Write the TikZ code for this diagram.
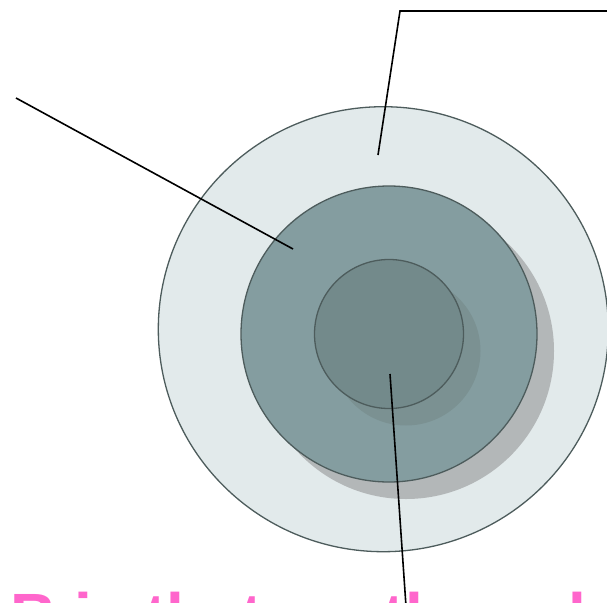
\documentclass[tikz,border=0pt]{standalone}
\usepackage{fontspec}
\usetikzlibrary{shapes.geometric}
\newfontfamily\ttl{Liberation Sans}
\definecolor{outerfill}{HTML}{E2EAEB}
\definecolor{midfill}{HTML}{849DA0}
\definecolor{innerfill}{HTML}{738A8B}
\definecolor{ringline}{HTML}{4D5C5C}
\definecolor{shadowA}{HTML}{B3B7B8}
\definecolor{shadowB}{HTML}{7B9192}
\definecolor{titlepink}{HTML}{FF66CC}
\tikzset{
  ring/.style={ellipse, draw=ringline, line width=1.3pt, inner sep=0pt},
  ringshadow/.style={circle, inner sep=0pt, draw=none},
  callout/.style={draw=black, line width=1.6pt},
  titletext/.style={anchor=base west, inner sep=0pt, text=titlepink,
    font=\ttl\bfseries\fontsize{64}{64}\selectfont}
}
\begin{document}
\begin{tikzpicture}[x=1pt,y=-1pt]
\useasboundingbox[fill=white] (0,0) rectangle (607,602);
% outer ring
\node[ring, fill=outerfill, minimum width=450pt, minimum height=445pt] (outer) at (383.3,329.2) {};
% middle ring with its shadow
\node[ringshadow, fill=shadowA, minimum size=296pt] (midshadow) at (406,351) {};
\node[ring, fill=midfill, minimum width=296pt, minimum height=296pt] (middle) at (389,334) {};
% inner ring with its shadow
\node[ringshadow, fill=shadowB, minimum size=149pt] (innershadow) at (406,351) {};
\node[ring, fill=innerfill, minimum width=149pt, minimum height=149pt] (inner) at (389,334) {};
% callout end points
\coordinate (topend) at (607,11);
\coordinate (topbend) at (400,11);
\coordinate (toptip) at (378,155);
\coordinate (leftend) at (16,98);
\coordinate (lefttip) at (293,249);
\coordinate (bottomtip) at (390,374);
\coordinate (bottomend) at (407.3,625);
\draw[callout] (topend) -- (topbend) -- (toptip);
\draw[callout] (leftend) -- (lefttip);
\draw[callout] (bottomtip) -- (bottomend);
% title (mostly below the visible area)
\node[titletext] (title) at (10.3,638.5) {B is that we these layers};
\end{tikzpicture}
\end{document}
